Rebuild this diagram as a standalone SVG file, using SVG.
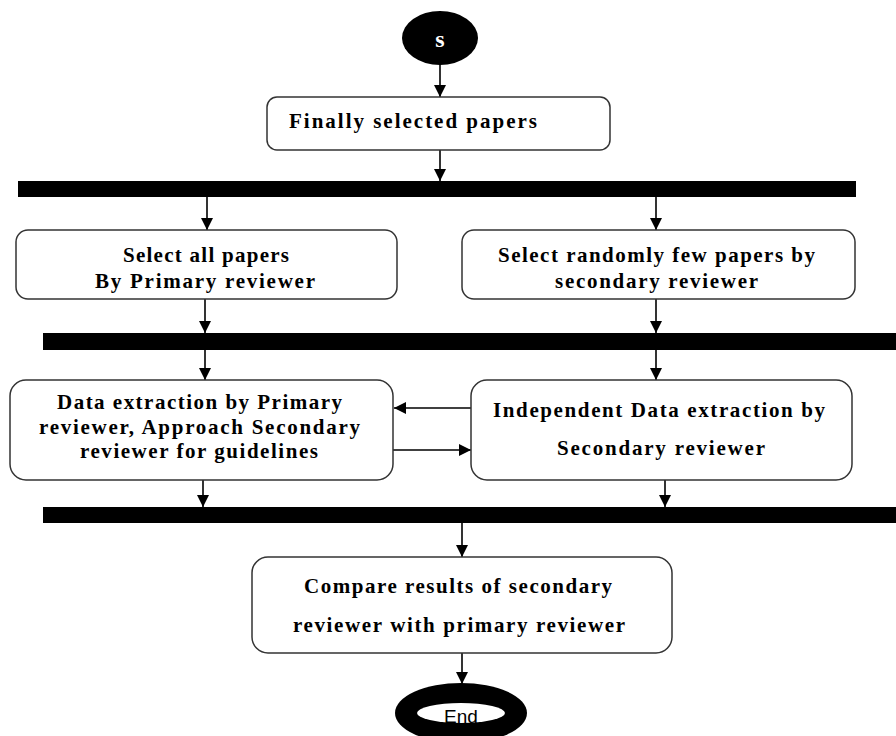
<svg xmlns="http://www.w3.org/2000/svg" width="896" height="736" viewBox="0 0 896 736">
<style>
.box{fill:#fff;stroke:#333;stroke-width:1.5}
.bar{fill:#000}
.t{font-family:"Liberation Serif","Times New Roman",serif;font-weight:bold;font-size:21px;fill:#000}
.c{stroke:#000;stroke-width:1.6;fill:none;marker-end:url(#ah)}
</style>
<defs>
<marker id="ah" markerUnits="userSpaceOnUse" markerWidth="12" markerHeight="12" viewBox="0 0 10 10" refX="10" refY="5" orient="auto">
<path d="M0,0 L10,5 L0,10 z" fill="#000"/>
</marker>
</defs>
<rect width="896" height="736" fill="#fff"/>
<g id="bars">
<rect class="bar" x="18" y="181" width="838" height="16"/>
<rect class="bar" x="43" y="333" width="853" height="17"/>
<rect class="bar" x="43" y="507" width="853" height="16"/>
</g>
<g id="connectors">
<line class="c" x1="440" y1="65" x2="440" y2="97"/>
<line class="c" x1="440" y1="150" x2="440" y2="181"/>
<line class="c" x1="207" y1="197" x2="207" y2="230"/>
<line class="c" x1="656" y1="197" x2="656" y2="230"/>
<line class="c" x1="205" y1="299" x2="205" y2="333"/>
<line class="c" x1="656" y1="299" x2="656" y2="333"/>
<line class="c" x1="205" y1="350" x2="205" y2="380"/>
<line class="c" x1="656" y1="350" x2="656" y2="380"/>
<line class="c" x1="471" y1="408" x2="394" y2="408"/>
<line class="c" x1="393" y1="450" x2="471" y2="450"/>
<line class="c" x1="203" y1="480" x2="203" y2="507"/>
<line class="c" x1="665" y1="480" x2="665" y2="507"/>
<line class="c" x1="462" y1="523" x2="462" y2="557"/>
<line class="c" x1="462" y1="653" x2="462" y2="684"/>
</g>
<g id="start">
<ellipse cx="440" cy="38" rx="38" ry="27" fill="#000"/>
<text x="440" y="47" text-anchor="middle" font-family="Liberation Serif, serif" font-weight="bold" font-size="24" fill="#fff">s</text>
</g>
<g id="n1">
<rect class="box" x="267" y="97" width="343" height="53" rx="10"/>
<text class="t" x="289" y="128" textLength="248" lengthAdjust="spacing">Finally selected papers</text>
</g>
<g id="n2">
<rect class="box" x="16" y="230" width="381" height="69" rx="12"/>
<text class="t" x="123" y="262" textLength="166" lengthAdjust="spacing">Select all papers</text>
<text class="t" x="95" y="288" textLength="220" lengthAdjust="spacing">By Primary reviewer</text>
</g>
<g id="n3">
<rect class="box" x="462" y="230" width="393" height="69" rx="12"/>
<text class="t" x="498" y="262" textLength="317" lengthAdjust="spacing">Select randomly few papers by</text>
<text class="t" x="555" y="288" textLength="203" lengthAdjust="spacing">secondary reviewer</text>
</g>
<g id="n4">
<rect class="box" x="10" y="380" width="383" height="100" rx="16"/>
<text class="t" x="57" y="409" textLength="285" lengthAdjust="spacing">Data extraction by Primary</text>
<text class="t" x="39" y="434" textLength="321" lengthAdjust="spacing">reviewer, Approach Secondary</text>
<text class="t" x="80" y="458" textLength="238" lengthAdjust="spacing">reviewer for guidelines</text>
</g>
<g id="n5">
<rect class="box" x="471" y="380" width="381" height="100" rx="16"/>
<text class="t" x="493" y="417" textLength="332" lengthAdjust="spacing">Independent Data extraction by</text>
<text class="t" x="557" y="455" textLength="208" lengthAdjust="spacing">Secondary reviewer</text>
</g>
<g id="n6">
<rect class="box" x="252" y="557" width="420" height="96" rx="16"/>
<text class="t" x="304" y="593" textLength="308" lengthAdjust="spacing">Compare results of secondary</text>
<text class="t" x="293" y="632" textLength="332" lengthAdjust="spacing">reviewer with primary reviewer</text>
</g>
<g id="end">
<ellipse cx="461" cy="713" rx="66" ry="30" fill="#000"/>
<ellipse cx="461" cy="713" rx="44" ry="10" fill="#fff"/>
<text x="461" y="723" text-anchor="middle" font-family="Liberation Sans, Arial, sans-serif" font-size="19" fill="#000">End</text>
</g>
</svg>
